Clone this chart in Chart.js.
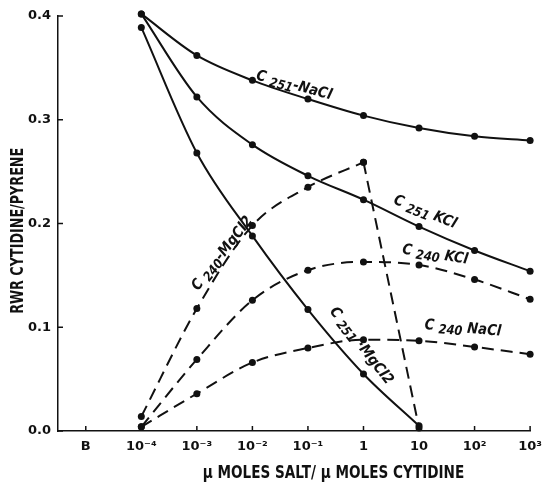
<!DOCTYPE html>
<html>
<head>
<meta charset="utf-8">
<script src="https://cdn.jsdelivr.net/npm/chart.js@4/dist/chart.umd.min.js"></script>
<style>
  html, body { margin: 0; padding: 0; background: #fff; }
  #wrap { width: 550px; height: 483px; position: relative; }
</style>
</head>
<body>
<div id="wrap"><canvas id="chart"></canvas></div>
<script>
// ── Data ───────────────────────────────────────────────────────────────────
const xLabels = ["B", "10\u207B\u2074", "10\u207B\u00B3", "10\u207B\u00B2", "10\u207B\u00B9", "1", "10", "10\u00B2", "10\u00B3"];
const yTicks  = [0.0, 0.1, 0.2, 0.3, 0.4];

// index into xLabels (1 = 10^-4 ... 8 = 10^3)
const xIdx = [1, 2, 3, 4, 5, 6, 7, 8];

const c251NaCl  = [0.402, 0.362, 0.338, 0.320, 0.304, 0.292, 0.284, 0.280];
const c251KCl   = [0.402, 0.322, 0.276, 0.246, 0.223, 0.197, 0.174, 0.154];
const c251MgCl2 = [0.389, 0.268, 0.188, 0.117, 0.055, 0.005];
const c240MgCl2 = [0.014, 0.118, 0.198, 0.235, 0.259, 0.003];
const c240KCl   = [0.004, 0.069, 0.126, 0.155, 0.163, 0.160, 0.146, 0.127];
const c240NaCl  = [0.004, 0.036, 0.066, 0.080, 0.088, 0.087, 0.081, 0.074];

// curve labels: [prefix, subscript, suffix, x (category index), y (value), angle deg]
const curveLabels = [
  ["C", "251", "-NaCl", 3.75, 0.333, 15],
  ["C", "251", " KCl",  6.11, 0.211, 22],
  ["C", "240", " KCl",  6.29, 0.170, 9],
  ["C", "240", " NaCl", 6.79, 0.099, 5],
  ["C", "251", " \u00B7MgCl2", 4.96, 0.082, 52],
  ["C", "240", "-MgCl2", 2.46, 0.171, -52],
];

const xTitle = "\u03BC MOLES SALT/ \u03BC MOLES CYTIDINE";
const yTitle = "RWR CYTIDINE/PYRENE";

const INK = "#111";
const FONT = "'DejaVu Sans', sans-serif";

function pts(ys, start = 0) {
  return ys.map((y, i) => ({ x: xIdx[i + start], y }));
}

function series(label, data, dashed, smooth) {
  return {
    label,
    data,
    borderColor: INK,
    backgroundColor: INK,
    borderWidth: 2,
    borderDash: dashed ? [12, 7] : [],
    pointRadius: 3.5,
    pointBackgroundColor: INK,
    pointBorderWidth: 0,
    tension: smooth ? 0.3 : 0,
    cubicInterpolationMode: smooth ? "monotone" : "default",
    fill: false,
    clip: false,
  };
}

// condensed bold text (the original lettering is tall and narrow)
function narrowText(ctx, text, x, y, size, sx, angle) {
  ctx.save();
  ctx.translate(x, y);
  ctx.rotate(angle);
  ctx.scale(sx, 1);
  ctx.font = "bold " + size + "px " + FONT;
  ctx.textAlign = "center";
  ctx.textBaseline = "middle";
  ctx.fillText(text, 0, 0);
  ctx.restore();
}

// inward tick marks, axis titles, curve labels
const decor = {
  id: "decor",
  afterDraw(chart) {
    const { ctx, chartArea, scales } = chart;
    const xs = scales.x, ys = scales.y;
    ctx.save();
    ctx.strokeStyle = INK;
    ctx.fillStyle = INK;
    ctx.lineWidth = 1.5;
    yTicks.forEach(v => {
      const py = ys.getPixelForValue(v);
      ctx.beginPath();
      ctx.moveTo(chartArea.left, py);
      ctx.lineTo(chartArea.left + 5, py);
      ctx.stroke();
    });
    xLabels.forEach((_, i) => {
      const px = xs.getPixelForValue(i);
      ctx.beginPath();
      ctx.moveTo(px, chartArea.bottom);
      ctx.lineTo(px, chartArea.bottom - 5);
      ctx.stroke();
    });

    narrowText(ctx, xTitle, xs.getPixelForValue(4.46), chartArea.bottom + 43, 17, 0.8, 0);
    narrowText(ctx, yTitle, 19, ys.getPixelForValue(0.193), 17, 0.75, -Math.PI / 2);

    ctx.textBaseline = "alphabetic";
    curveLabels.forEach(([pre, sub, suf, lx, ly, ang]) => {
      const px = xs.getPixelForValue(lx);
      const py = ys.getPixelForValue(ly);
      ctx.save();
      ctx.translate(px, py);
      ctx.rotate(ang * Math.PI / 180);
      ctx.scale(0.88, 1);
      const f1 = "bold italic 15px " + FONT;
      const f2 = "bold italic 13px " + FONT;
      ctx.font = f1; const w1 = ctx.measureText(pre + " ").width;
      ctx.font = f2; const w2 = ctx.measureText(sub).width;
      ctx.font = f1; const w3 = ctx.measureText(suf).width;
      const x0 = -(w1 + w2 + w3) / 2;
      ctx.font = f1; ctx.fillText(pre + " ", x0, 4);
      ctx.font = f2; ctx.fillText(sub, x0 + w1, 7);
      ctx.font = f1; ctx.fillText(suf, x0 + w1 + w2, 4);
      ctx.restore();
    });
    ctx.restore();
  },
};

// C240-MgCl2 rises smoothly to its peak at 1, then falls straight to 10
const mgRise = pts(c240MgCl2.slice(0, 5));
const mgFall = pts(c240MgCl2.slice(4), 4);

new Chart(document.getElementById("chart"), {
  type: "line",
  data: {
    datasets: [
      series("C251-NaCl", pts(c251NaCl), false, true),
      series("C251 KCl", pts(c251KCl), false, true),
      series("C251 MgCl2", pts(c251MgCl2), false, true),
      series("C240 MgCl2", mgRise, true, true),
      series("C240 MgCl2 (fall)", mgFall, true, false),
      series("C240 KCl", pts(c240KCl), true, true),
      series("C240 NaCl", pts(c240NaCl), true, true),
    ],
  },
  options: {
    responsive: true,
    maintainAspectRatio: false,
    animation: false,
    layout: { padding: { top: 16, right: 12, left: 0, bottom: 0 } },
    plugins: {
      legend: { display: false },
      tooltip: { enabled: false },
    },
    scales: {
      x: {
        type: "linear",
        min: -0.5,
        max: 8,
        afterFit: s => { s.height = 52; },
        afterBuildTicks: s => { s.ticks = xLabels.map((_, i) => ({ value: i })); },
        grid: { display: true, drawOnChartArea: false, drawTicks: false },
        border: { display: true, color: INK, width: 1.5 },
        ticks: {
          color: INK,
          padding: 8,
          maxRotation: 0,
          autoSkip: false,
          font: { family: FONT, size: 13, weight: "bold" },
          callback: v => xLabels[v] ?? "",
        },
      },
      y: {
        min: 0,
        max: 0.4,
        afterFit: s => { s.width = 58; },
        afterBuildTicks: s => { s.ticks = yTicks.map(v => ({ value: v })); },
        grid: { display: true, drawOnChartArea: false, drawTicks: false },
        border: { display: true, color: INK, width: 1.5 },
        ticks: {
          color: INK,
          padding: 7,
          font: { family: FONT, size: 13, weight: "bold" },
          callback: v => v.toFixed(1),
        },
      },
    },
  },
  plugins: [decor],
});
</script>
</body>
</html>
